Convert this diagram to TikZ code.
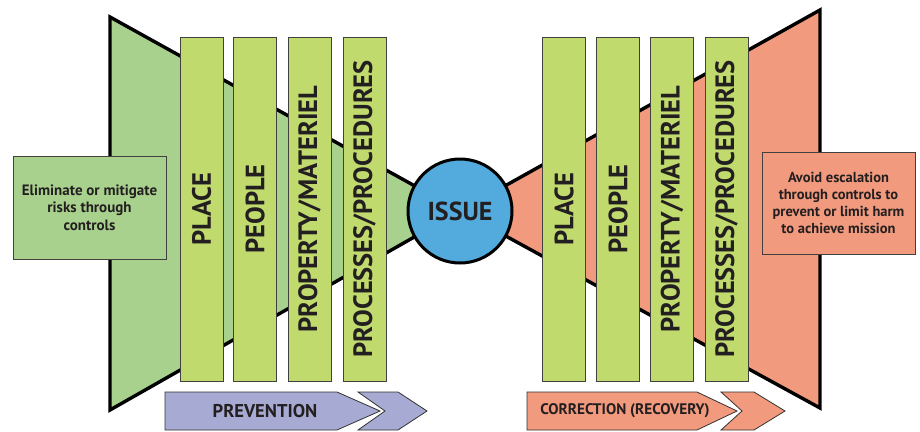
\documentclass[tikz,border=0pt]{standalone}
\usepackage{fontspec}
\setmainfont{PT Sans}
\begin{document}
\begin{tikzpicture}[x=1pt,y=-1pt,
  trapgreen/.style={fill=lgreen,draw=black,line width=3.4pt,line join=miter},
  trapsal/.style={fill=salmon,draw=black,line width=3.4pt,line join=miter},
  bar/.style={fill=bargreen,draw=black!75,line width=0.8pt,minimum width=43pt,minimum height=344pt,inner sep=0pt},
  bartext/.style={rotate=90,font=\bfseries\fontsize{26.5}{26.5}\selectfont,text=txt},
  box/.style={draw=black!75,line width=0.8pt,text=txt,align=center,inner sep=0pt},
  arrowshape/.style={draw=black!80,line width=0.8pt,line join=miter}
]
\definecolor{lgreen}{HTML}{A9D18E}
\definecolor{bargreen}{HTML}{C0DA6E}
\definecolor{salmon}{HTML}{F29A7D}
\definecolor{issueblue}{HTML}{52AADD}
\definecolor{lav}{HTML}{A7AAD2}
\definecolor{txt}{HTML}{231F20}
\useasboundingbox (0,0) rectangle (920,431);
\fill[white] (0,0) rectangle (920,431);

% trapezoids converging to the issue
\coordinate (apex) at (460,211);
\draw[trapgreen] (apex) -- (110,17) -- (110,410) -- cycle;
\draw[trapsal] (apex) -- (820,10) -- (820,408) -- cycle;

% left bars
\node[bar] (lb1) at (201.5,209) {};
\node[bar] (lb2) at (255,209) {};
\node[bar] (lb3) at (309.5,209) {};
\node[bar] (lb4) at (364.5,209) {};
\node[bartext] at (lb1) {PLACE};
\node[bartext] at (lb2) {PEOPLE};
\node[bartext] at (lb3) {PROPERTY/MATERIEL};
\node[bartext] at (lb4) {PROCESSES/PROCEDURES};

% right bars
\node[bar] (rb1) at (564,209) {};
\node[bar] (rb2) at (618,209) {};
\node[bar] (rb3) at (672,209) {};
\node[bar] (rb4) at (726.5,209) {};
\node[bartext] at (rb1) {PLACE};
\node[bartext] at (rb2) {PEOPLE};
\node[bartext] at (rb3) {PROPERTY/MATERIEL};
\node[bartext] at (rb4) {PROCESSES/PROCEDURES};

% issue circle
\node[circle,fill=issueblue,draw=black,line width=3pt,minimum size=104pt,inner sep=0pt,
      text=txt,font=\bfseries\fontsize{26}{26}\selectfont] (issue) at (apex) {ISSUE};

% side boxes
\node[box,fill=lgreen,minimum width=153pt,minimum height=103pt,
      font=\bfseries\fontsize{15}{17.5}\selectfont] (lbox) at (89.5,207.5)
  {Eliminate or mitigate\\risks through\\controls};
\node[box,fill=salmon,minimum width=153pt,minimum height=102pt,
      font=\bfseries\fontsize{14.5}{17}\selectfont] (rbox) at (838.5,203)
  {Avoid escalation\\through controls to\\prevent or limit harm\\to achieve mission};

% prevention arrow
\draw[arrowshape,fill=lav] (165,392) -- (337,392) -- (380,411) -- (337,430) -- (165,430) -- cycle;
\draw[arrowshape,fill=lav] (358,392) -- (398,392) -- (427,411) -- (398,430) -- (358,430) -- (385,411) -- cycle;
\node[text=txt,font=\bfseries\fontsize{18.5}{18.5}\selectfont] (prev) at (265,411) {PREVENTION};

% correction arrow
\draw[arrowshape,fill=salmon] (527,392) -- (697,392) -- (737,411) -- (697,430) -- (527,430) -- cycle;
\draw[arrowshape,fill=salmon] (721,392) -- (754,392) -- (785,411) -- (754,430) -- (721,430) -- (742,411) -- cycle;
\node[text=txt,font=\bfseries\fontsize{15.3}{15.3}\selectfont] (corr) at (625,411) {CORRECTION (RECOVERY)};
\end{tikzpicture}
\end{document}
